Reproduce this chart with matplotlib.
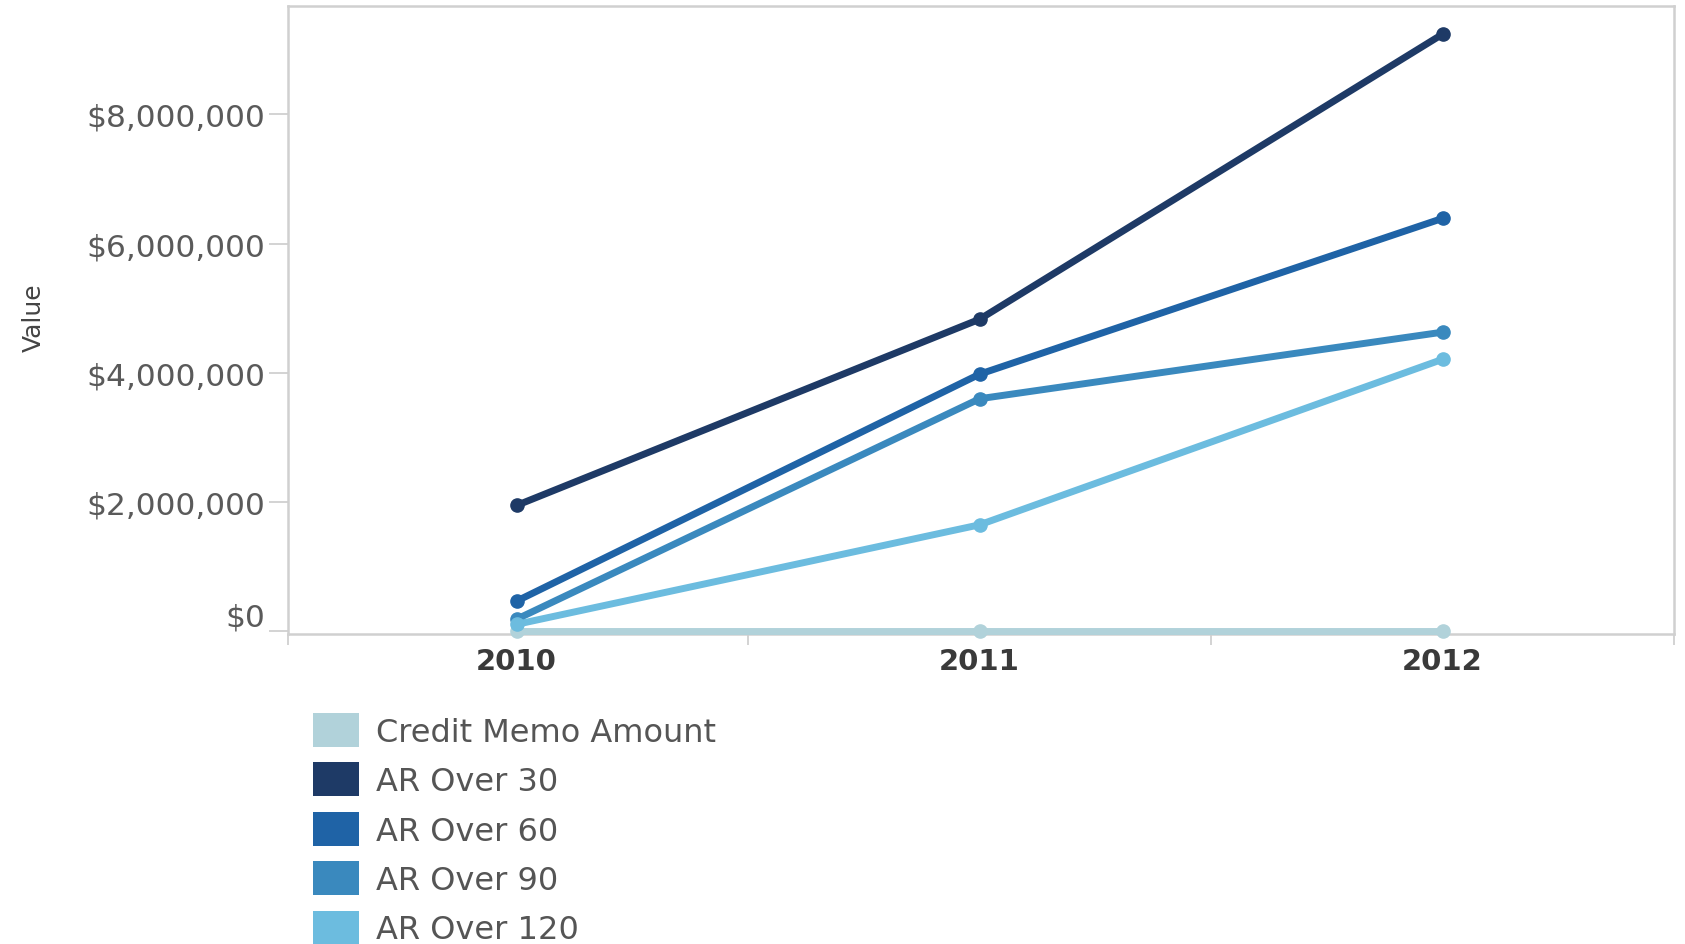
import matplotlib
matplotlib.use("Agg")
import matplotlib.pyplot as plt
from matplotlib.patches import Patch
from matplotlib.ticker import FuncFormatter

YEARS = ["2010", "2011", "2012"]
SERIES = ["Credit Memo Amount", "AR Over 30", "AR Over 60", "AR Over 90", "AR Over 120"]
CREDIT_MEMO = [0, 0, 0]
AR_30 = [1950000, 4830000, 9240000]
AR_60 = [470000, 3980000, 6390000]
AR_90 = [190000, 3600000, 4630000]
AR_120 = [110000, 1650000, 4210000]
COLORS = ["#b1d2da", "#1e3a66", "#1f63a6", "#3a89be", "#6cbcdf"]

plt.rcParams["font.family"] = ["DejaVu Sans"]


def money(v, _pos):
    return f"${v:,.0f}"


def main() -> None:
    fig = plt.figure(figsize=(16.85, 9.45), dpi=100)
    ax = fig.add_axes([0.1709, 0.328, 0.8226, 0.6645])

    x = list(range(len(YEARS)))
    values = [CREDIT_MEMO, AR_30, AR_60, AR_90, AR_120]
    for name, vals, col in zip(SERIES, values, COLORS):
        ax.plot(x, vals, color=col, lw=5, marker="o", ms=9.5,
                solid_capstyle="round", label=name, clip_on=False, zorder=3)

    ax.set_xlim(-0.494, 2.5)
    ax.set_ylim(-40000, 9.674e6)
    ax.set_yticks([0, 2e6, 4e6, 6e6, 8e6])
    ax.yaxis.set_major_formatter(FuncFormatter(money))
    ax.set_xticks(x)
    ax.set_xticklabels(YEARS, fontweight="bold", color="#3a3a3a", fontsize=21)
    ax.set_xticks([-0.494, 0.5, 1.5, 2.5], minor=True)

    ax.tick_params(axis="y", length=14, width=1.2, color="#cccccc",
                   labelcolor="#5a5a5a", labelsize=22.5, pad=2)
    ax.tick_params(axis="x", which="major", length=0, pad=9)
    ax.tick_params(axis="x", which="minor", length=8, width=1.2, color="#cccccc")
    zero = ax.get_yticklabels()[0]
    zero.set_va("bottom")

    for sp in ax.spines.values():
        sp.set_color("#d0d0d0")
        sp.set_linewidth(1.8)

    ax.set_ylabel("Value", fontsize=18, color="#444444")
    ax.yaxis.set_label_coords(-0.175, 0.506)

    handles = [Patch(facecolor=c, edgecolor="none") for c in COLORS]
    fig.legend(handles, SERIES, loc="upper left", bbox_to_anchor=(0.1858, 0.2445),
               frameon=False, fontsize=23, handlelength=1.45, handleheight=1.26,
               handletextpad=0.52, labelspacing=0.46, borderpad=0, borderaxespad=0,
               labelcolor="#555555")

    fig.savefig("out.png", dpi=100)


if __name__ == "__main__":
    main()
